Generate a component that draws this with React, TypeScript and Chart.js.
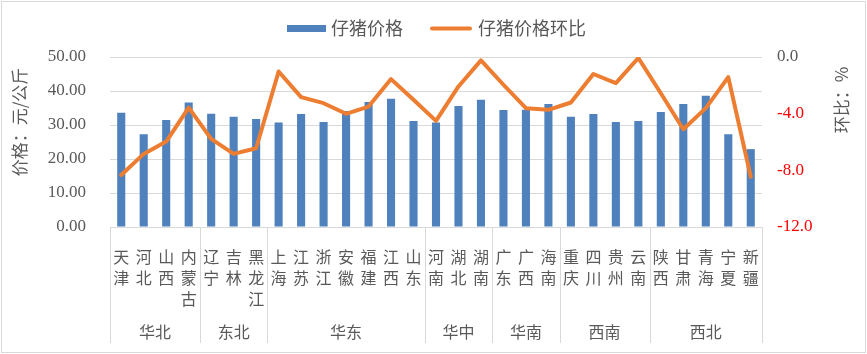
import React, { useEffect, useRef } from 'react';
import { Chart, registerables } from 'chart.js';

Chart.register(...registerables);

const provinces = ['天津', '河北', '山西', '内蒙古', '辽宁', '吉林', '黑龙江', '上海', '江苏', '浙江', '安徽', '福建', '江西', '山东', '河南', '湖北', '湖南', '广东', '广西', '海南', '重庆', '四川', '贵州', '云南', '陕西', '甘肃', '青海', '宁夏', '新疆'];
const groupNames = ['华北', '东北', '华东', '华中', '华南', '西南', '西北'];
const groupSizes = [4, 3, 7, 3, 3, 4, 5];
const pigletPrice = [33.6, 27.3, 31.5, 36.6, 33.3, 32.4, 31.8, 30.7, 33.2, 30.9, 34.1, 36.8, 37.7, 31.2, 30.7, 35.6, 37.4, 34.4, 34.5, 36.2, 32.4, 33.2, 30.9, 31.2, 33.8, 36.2, 38.6, 27.3, 22.9];
const priceMoM = [-8.33, -6.84, -5.97, -3.57, -5.78, -6.84, -6.44, -1.02, -2.83, -3.26, -4.01, -3.5, -1.56, -3.02, -4.51, -2.08, -0.24, -1.96, -3.61, -3.73, -3.21, -1.2, -1.84, -0.07, -2.56, -5.1, -3.61, -1.42, -8.45];
const seriesNames = ['仔猪价格', '仔猪价格环比'];
const leftTitle = '价格：元/公斤';
const rightTitle = '环比：%';

const BLUE = '#4f81bd';
const ORANGE = '#ed7d31';
const GRID = '#d9d9d9';
const TEXT = '#595959';
const CJK = '"Noto Sans CJK SC", sans-serif';
const NUM = '"Liberation Serif", serif';

const decor = {
  id: 'decor',
  afterDraw(chart: any) {
    const { ctx, chartArea, scales } = chart;
    const xs = scales.x;
    ctx.save();
    // group separators
    ctx.strokeStyle = GRID;
    ctx.lineWidth = 1;
    const bounds: number[] = [chartArea.left];
    let idx = 0;
    groupSizes.forEach((s) => {
      idx += s;
      if (idx >= provinces.length) bounds.push(chartArea.right);
      else bounds.push((xs.getPixelForValue(idx - 1) + xs.getPixelForValue(idx)) / 2);
    });
    bounds.forEach((b) => {
      const px = Math.round(b) + 0.5;
      ctx.beginPath();
      ctx.moveTo(px, chartArea.bottom);
      ctx.lineTo(px, 343);
      ctx.stroke();
    });
    // group labels
    ctx.fillStyle = TEXT;
    ctx.font = `16px ${CJK}`;
    ctx.textAlign = 'center';
    ctx.textBaseline = 'middle';
    groupNames.forEach((g, i) => {
      ctx.fillText(g, (bounds[i] + bounds[i + 1]) / 2, 332);
    });
    // axis titles
    ctx.font = `17px ${CJK}`;
    ctx.save();
    ctx.translate(20, 122);
    ctx.rotate(-Math.PI / 2);
    ctx.fillText(leftTitle, 0, 0);
    ctx.restore();
    ctx.save();
    ctx.translate(842, 100);
    ctx.rotate(-Math.PI / 2);
    ctx.fillText(rightTitle, 0, 0);
    ctx.restore();
    // legend
    ctx.fillStyle = BLUE;
    ctx.fillRect(287, 25, 39, 7);
    ctx.fillStyle = TEXT;
    ctx.font = `18px ${CJK}`;
    ctx.textAlign = 'left';
    ctx.fillText(seriesNames[0], 331, 28.5);
    ctx.strokeStyle = ORANGE;
    ctx.lineWidth = 4;
    ctx.lineCap = 'round';
    ctx.beginPath();
    ctx.moveTo(432, 28.5);
    ctx.lineTo(470, 28.5);
    ctx.stroke();
    ctx.fillText(seriesNames[1], 478, 28.5);
    // outer border
    ctx.strokeStyle = GRID;
    ctx.lineWidth = 1;
    ctx.lineCap = 'butt';
    ctx.strokeRect(1.5, 1.5, 864, 351);
    ctx.restore();
  },
};

export default function App() {
  const ref = useRef<HTMLCanvasElement>(null);
  useEffect(() => {
    if (!ref.current) return;
    const chart = new Chart(ref.current, {
      type: 'bar',
      data: {
        labels: provinces.map((p) => p.split('')),
        datasets: [
          {
            type: 'line',
            label: seriesNames[1],
            data: priceMoM,
            yAxisID: 'y1',
            borderColor: ORANGE,
            backgroundColor: ORANGE,
            borderWidth: 4,
            pointRadius: 0,
            tension: 0,
            borderJoinStyle: 'round',
            borderCapStyle: 'round',
            order: 0,
          } as any,
          {
            type: 'bar',
            label: seriesNames[0],
            data: pigletPrice,
            yAxisID: 'y',
            backgroundColor: BLUE,
            barPercentage: 0.36,
            categoryPercentage: 1,
            order: 1,
          },
        ],
      },
      options: {
        responsive: false,
        animation: false,
        devicePixelRatio: 1,
        layout: { padding: { top: 57, left: 0, right: 0, bottom: 0 } },
        plugins: { legend: { display: false }, tooltip: { enabled: false } },
        scales: {
          x: {
            grid: { display: false, drawTicks: false },
            border: { display: true, color: GRID },
            ticks: {
              autoSkip: false,
              maxRotation: 0,
              minRotation: 0,
              padding: 19,
              color: TEXT,
              font: { family: CJK, size: 16, lineHeight: '21px' } as any,
            },
            afterFit: (s: any) => { s.height = 127; },
          },
          y: {
            position: 'left',
            min: 0,
            max: 50,
            grid: { color: GRID, drawTicks: false },
            border: { display: false },
            ticks: {
              stepSize: 10,
              padding: 24,
              color: TEXT,
              font: { family: NUM, size: 17 },
              callback: (v: any) => Number(v).toFixed(2),
            },
            afterFit: (s: any) => { s.width = 110; },
          },
          y1: {
            position: 'right',
            min: -12,
            max: 0,
            grid: { display: false, drawTicks: false },
            border: { display: false },
            ticks: {
              stepSize: 4,
              padding: 15,
              color: (c: any) => (c.tick && c.tick.value < 0 ? '#ff0000' : TEXT),
              font: { family: NUM, size: 17 },
              callback: (v: any) => Number(v).toFixed(1),
            },
            afterFit: (s: any) => { s.width = 105; },
          },
        },
      },
      plugins: [decor],
    });
    return () => chart.destroy();
  }, []);
  return (
    <div style={{ position: 'absolute', left: 0, top: 0, width: 867, height: 354, background: '#fff' }}>
      <canvas ref={ref} width={867} height={354} />
    </div>
  );
}
